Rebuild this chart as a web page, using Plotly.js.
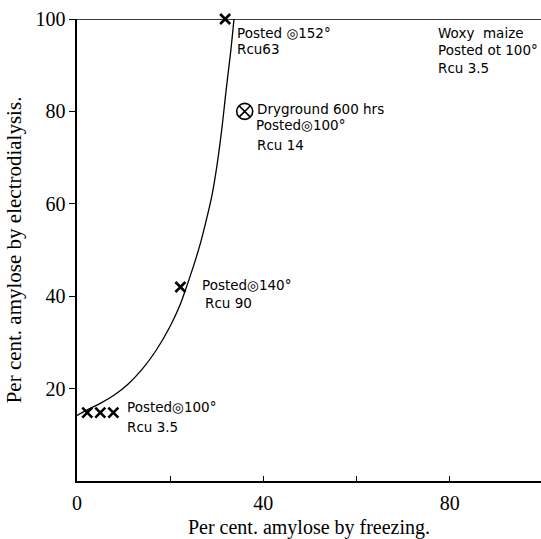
<!DOCTYPE html>
<html>
<head>
<meta charset="utf-8">
<script src="https://cdn.plot.ly/plotly-3.0.1.min.js"></script>
<style>html,body{margin:0;padding:0;background:#fff;overflow:hidden;}#chart{width:541px;height:539px;overflow:hidden;}</style>
</head>
<body>
<div id="chart"></div>
<script>
// Fitted curve (freezing vs electrodialysis)
const curveX = [0, 2, 5, 8, 11, 14, 17, 20, 22, 23.5, 25, 26.5, 28, 29, 30, 31, 32, 33, 33.7];
const curveY = [14.2, 15.3, 16.8, 18.6, 21, 24.2, 28.3, 33.5, 37.8, 42, 46.5, 51.5, 57.5, 62, 68, 75.5, 84.5, 93, 100];
// Upper limit line (100 % amylose by electrodialysis)
const topLineX = [0, 100];
const topLineY = [100, 100];
// Measured samples (X marks)
const crossX = [2.2, 5, 7.8, 22.2, 31.8];
const crossY = [14.8, 14.8, 14.8, 42, 100];
// Dryground sample (circled X)
const dryX = [36];
const dryY = [80];
// Waxy maize (open circle)
const waxyX = [100];
const waxyY = [100];
// Label lines
const labelText = ["Posted \u25CE152\u00B0", "Rcu63",
  "Woxy  maize", "Posted ot 100\u00B0", "Rcu 3.5",
  "Dryground 600 hrs", "Posted\u25CE100\u00B0", "Rcu 14",
  "Posted\u25CE140\u00B0", "Rcu 90",
  "Posted\u25CE100\u00B0", "Rcu 3.5"];
const labelX = [34, 34, 77, 77, 77, 38.3, 38.1, 38.3, 26.5, 27.1, 10.3, 10.3];
const labelY = [96.9, 93.5, 96.9, 93.2, 89.4, 80.6, 77, 72.7, 42.4, 38.5, 16, 11.7];
// Axis ticks
const xTicks = [0, 20, 40, 60, 80, 100];
const xTickText = ["0", "", "40", "", "80", ""];
const yTicks = [20, 40, 60, 80, 100];

const traces = [
  {x: topLineX, y: topLineY, mode: "lines", line: {color: "#000", width: 1.6}, cliponaxis: false},
  {x: curveX, y: curveY, mode: "lines", line: {color: "#000", width: 1.3, shape: "spline"}},
  {x: crossX, y: crossY, mode: "markers", marker: {symbol: "x-thin-open", size: 10, color: "#000", line: {color: "#000", width: 2.6}}, cliponaxis: false},
  {x: dryX, y: dryY, mode: "markers", marker: {symbol: "circle-x-open", size: 16, color: "#000", line: {color: "#000", width: 1.6}}, cliponaxis: false},
  {x: waxyX, y: waxyY, mode: "markers", marker: {symbol: "circle-open", size: 12, color: "#000", line: {color: "#000", width: 1.5}}, cliponaxis: false}
];

const annotations = labelText.map((t, i) => ({
  x: labelX[i], y: labelY[i], xref: "x", yref: "y", text: t, showarrow: false,
  xanchor: "left", yanchor: "middle",
  font: {family: "DejaVu Sans", size: 13.5, color: "#000"}
}));

const layout = {
  width: 541, height: 539,
  margin: {l: 77, r: 0, t: 19, b: 58},
  paper_bgcolor: "#fff", plot_bgcolor: "#fff",
  showlegend: false,
  xaxis: {
    range: [0, 99.6], showgrid: false, zeroline: false,
    showline: true, linecolor: "#000", linewidth: 1.6,
    tickmode: "array", tickvals: xTicks, ticktext: xTickText,
    ticks: "inside", ticklen: 5, tickwidth: 1, tickcolor: "#000",
    ticklabelstandoff: 3,
    tickfont: {family: "Liberation Serif", size: 20, color: "#000"},
    title: {text: "Per cent. amylose by freezing.", standoff: 10,
      font: {family: "Liberation Serif", size: 20, color: "#000"}}
  },
  yaxis: {
    range: [0, 100], showgrid: false, zeroline: false,
    showline: true, linecolor: "#000", linewidth: 1.6,
    tickmode: "array", tickvals: yTicks,
    ticks: "outside", ticklen: 6, tickwidth: 1, tickcolor: "#000",
    tickfont: {family: "Liberation Serif", size: 20, color: "#000"},
    title: {text: "Per cent. amylose by electrodialysis.", standoff: 8,
      font: {family: "Liberation Serif", size: 21, color: "#000"}}
  },
  annotations: annotations
};

Plotly.newPlot("chart", traces, layout, {staticPlot: true, displayModeBar: false});
</script>
</body>
</html>
